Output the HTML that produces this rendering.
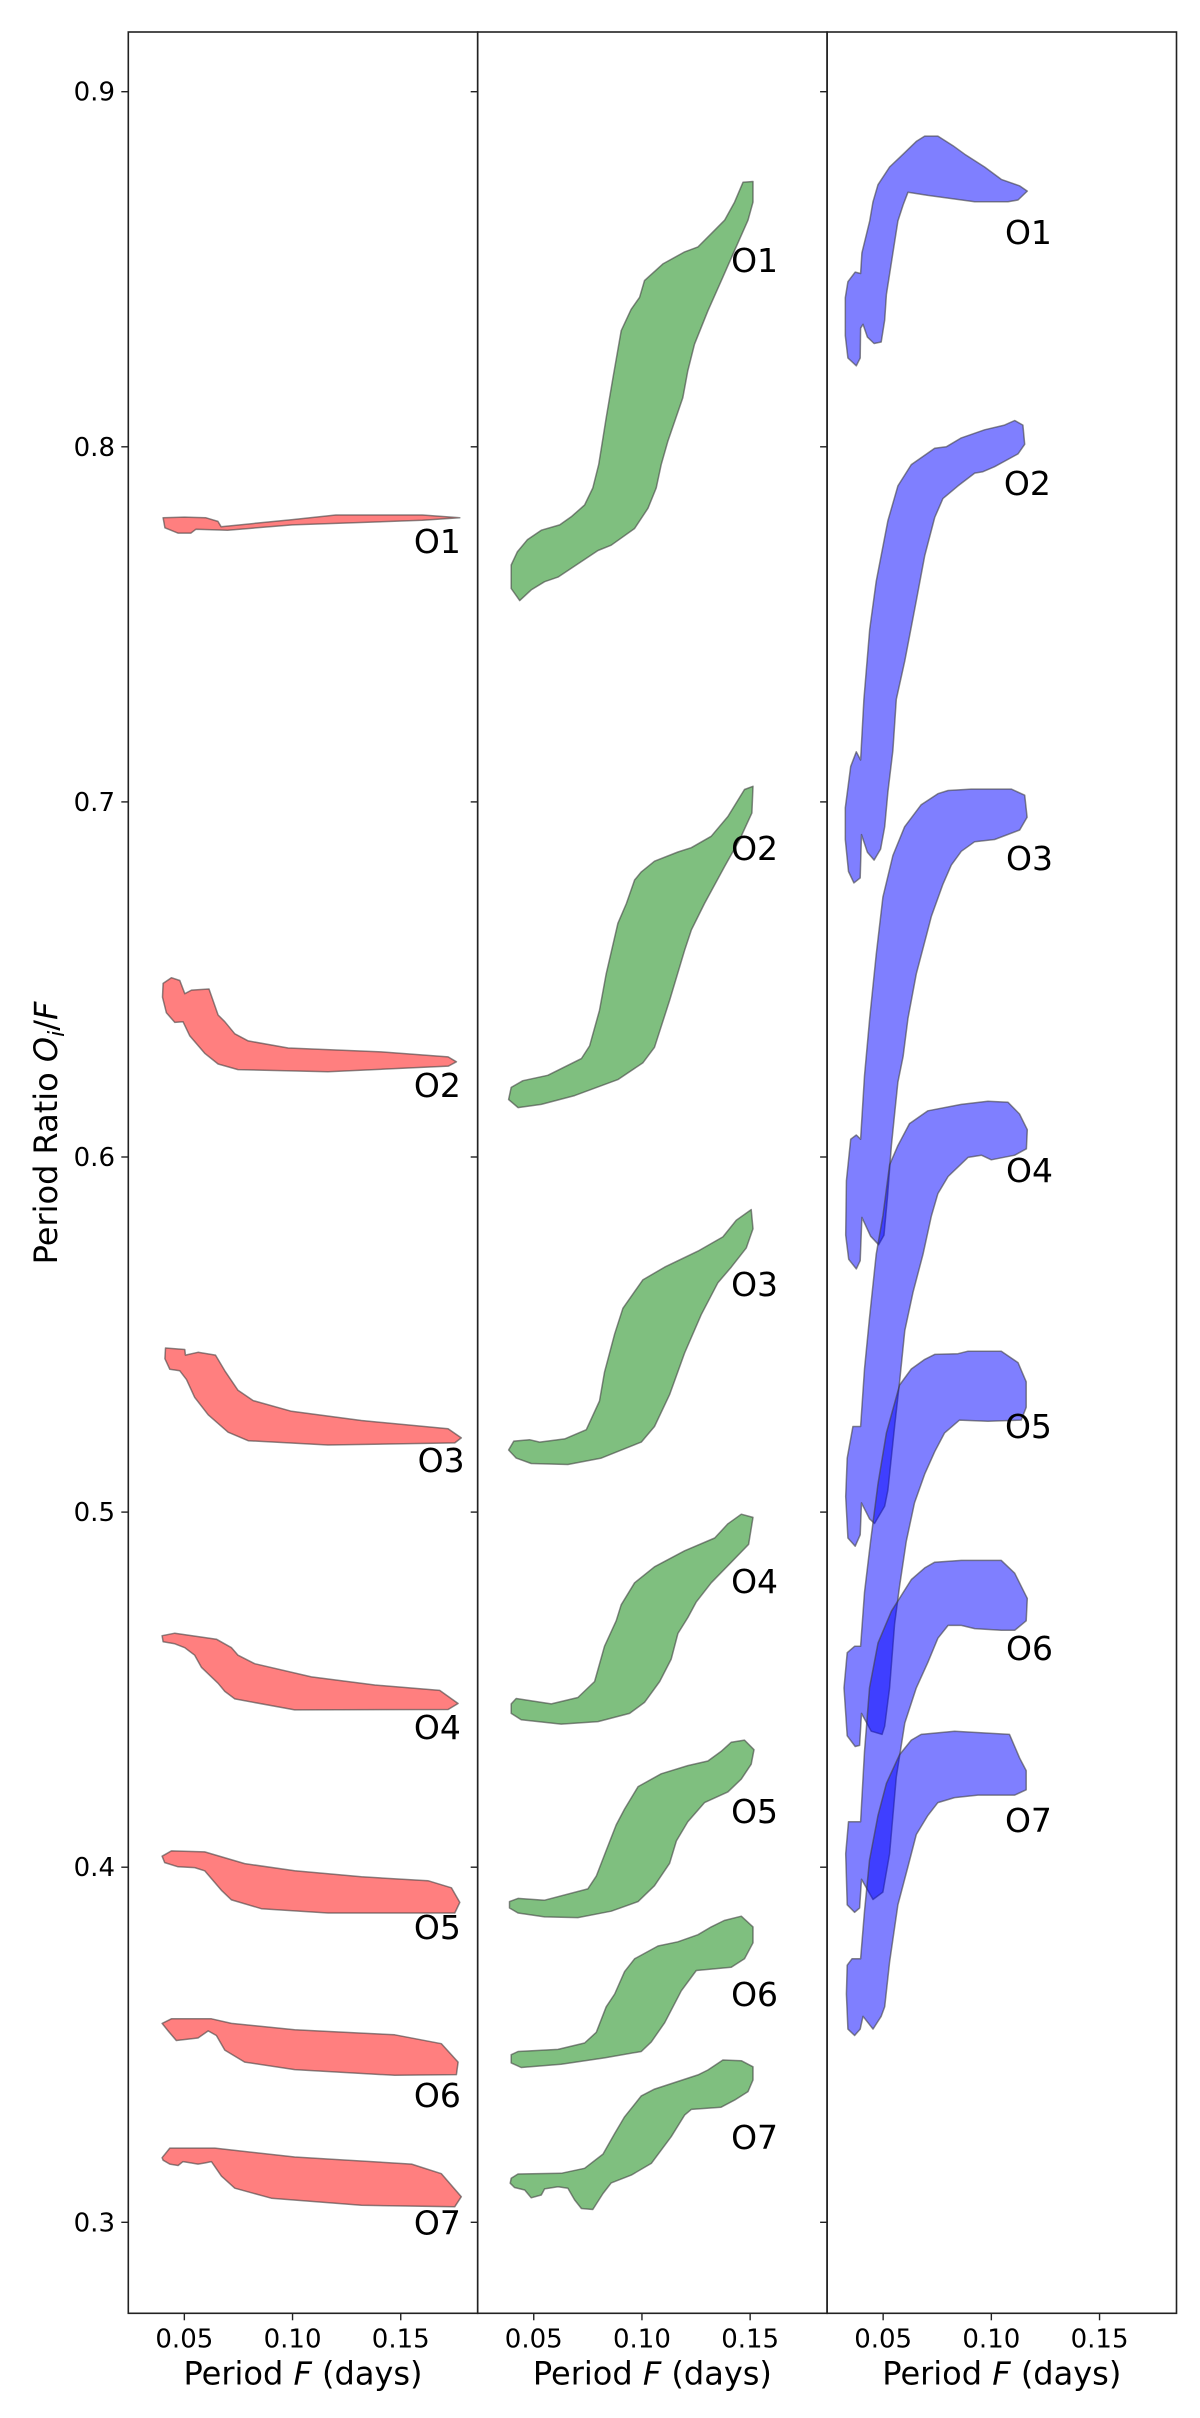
<!DOCTYPE html>
<html><head><meta charset="utf-8"><style>
html,body{margin:0;padding:0;background:#fff}
svg{display:block}
text{font-family:"DejaVu Sans","Liberation Sans",sans-serif;fill:#000}
</style></head><body>
<svg id="chart" width="1200" height="2418" viewBox="0 0 1200 2418" xmlns="http://www.w3.org/2000/svg"></svg>
<script>
const xTicks = [0.05, 0.10, 0.15];
const xTickLabels = ["0.05", "0.10", "0.15"];
const yTicks = [0.3, 0.4, 0.5, 0.6, 0.7, 0.8, 0.9];
const yTickLabels = ["0.3", "0.4", "0.5", "0.6", "0.7", "0.8", "0.9"];
const bandNames = ["O1","O2","O3","O4","O5","O6","O7"];

const redBands = [
 [[0.0402,0.7800],[0.050,0.7802],[0.060,0.7800],[0.0655,0.7790],[0.067,0.7775],[0.10,0.7795],[0.12,0.7808],[0.16,0.7808],[0.1773,0.7800],[0.16,0.7793],[0.10,0.7780],[0.07,0.7765],[0.0554,0.7768],[0.053,0.7757],[0.047,0.7757],[0.041,0.7772]],
 [[0.0402,0.6489],[0.044,0.6505],[0.0479,0.6497],[0.0502,0.6460],[0.0533,0.6470],[0.0614,0.6473],[0.0656,0.6400],[0.0687,0.6381],[0.0733,0.6347],[0.0795,0.6327],[0.098,0.6307],[0.141,0.6296],[0.1719,0.6282],[0.1757,0.6268],[0.172,0.6256],[0.1164,0.6240],[0.0748,0.6246],[0.0656,0.6262],[0.0594,0.6292],[0.0525,0.6341],[0.0494,0.6381],[0.0456,0.6379],[0.0417,0.6406],[0.0399,0.6450]],
 [[0.0413,0.5462],[0.0502,0.5458],[0.0505,0.5442],[0.0563,0.5450],[0.0644,0.5442],[0.0687,0.5398],[0.0748,0.5343],[0.0818,0.5314],[0.0995,0.5284],[0.1318,0.5258],[0.1719,0.5235],[0.178,0.5209],[0.175,0.5195],[0.1164,0.5189],[0.0795,0.5201],[0.0702,0.5225],[0.061,0.5274],[0.0548,0.5323],[0.051,0.5373],[0.0479,0.5398],[0.0433,0.5402],[0.041,0.5432]],
 [[0.0397,0.4652],[0.0456,0.4659],[0.0648,0.4642],[0.0718,0.4618],[0.0748,0.4597],[0.0825,0.4573],[0.1087,0.4536],[0.138,0.4513],[0.168,0.4498],[0.1765,0.4461],[0.1719,0.4444],[0.101,0.4443],[0.0733,0.4474],[0.0687,0.4495],[0.0656,0.4518],[0.0579,0.4563],[0.0548,0.4597],[0.0502,0.4618],[0.0456,0.4629],[0.0402,0.4635]],
 [[0.0397,0.4031],[0.044,0.4046],[0.0594,0.4043],[0.0779,0.4010],[0.101,0.3990],[0.1318,0.3973],[0.1626,0.3962],[0.1734,0.3942],[0.1773,0.3901],[0.175,0.3871],[0.1164,0.3871],[0.0856,0.3883],[0.0718,0.3908],[0.0671,0.3935],[0.0594,0.3990],[0.0548,0.3999],[0.0471,0.4001],[0.0409,0.4013]],
 [[0.0397,0.3560],[0.044,0.3573],[0.0525,0.3573],[0.0625,0.3573],[0.0718,0.3560],[0.101,0.3542],[0.1472,0.3528],[0.1688,0.3503],[0.1765,0.3451],[0.1757,0.3416],[0.1472,0.3414],[0.101,0.3430],[0.0779,0.3451],[0.0687,0.3485],[0.0648,0.3526],[0.061,0.3539],[0.0563,0.3519],[0.0463,0.3512],[0.0425,0.3539]],
 [[0.0397,0.3182],[0.0433,0.3209],[0.0641,0.3209],[0.101,0.3184],[0.155,0.3164],[0.1688,0.3137],[0.178,0.3072],[0.175,0.3044],[0.1318,0.3048],[0.0902,0.3068],[0.0733,0.3096],[0.0671,0.3130],[0.0625,0.3171],[0.0594,0.3167],[0.0563,0.3164],[0.0533,0.3167],[0.0494,0.3171],[0.0471,0.3160],[0.0433,0.3164],[0.0402,0.3175]]
];
const greenBands = [
 [[0.1467,0.8745],[0.1513,0.8747],[0.1513,0.8689],[0.149,0.8638],[0.1428,0.8553],[0.1374,0.8478],[0.1305,0.8383],[0.1243,0.8289],[0.1212,0.8214],[0.1189,0.8138],[0.112,0.8016],[0.1089,0.7950],[0.1066,0.7884],[0.1028,0.7827],[0.0966,0.7770],[0.0858,0.7723],[0.0797,0.7708],[0.0612,0.7633],[0.055,0.7620],[0.0488,0.7597],[0.0435,0.7567],[0.0396,0.7601],[0.0396,0.7667],[0.0424,0.7704],[0.047,0.7738],[0.0535,0.7765],[0.062,0.7780],[0.0673,0.7803],[0.0735,0.7836],[0.0773,0.7884],[0.08,0.7950],[0.082,0.8025],[0.0835,0.8082],[0.0866,0.8195],[0.0904,0.8327],[0.095,0.8387],[0.0989,0.8421],[0.1012,0.8468],[0.1097,0.8515],[0.1197,0.8549],[0.1259,0.8563],[0.132,0.8600],[0.1382,0.8638],[0.1428,0.8689]],
 [[0.1474,0.7035],[0.1513,0.7044],[0.1508,0.6969],[0.1451,0.6893],[0.1382,0.6818],[0.1289,0.6714],[0.1228,0.6639],[0.1197,0.6582],[0.1128,0.6441],[0.1058,0.6309],[0.1004,0.6265],[0.0889,0.6218],[0.0689,0.6173],[0.0535,0.6148],[0.0427,0.6139],[0.0384,0.6162],[0.0396,0.6196],[0.045,0.6215],[0.0565,0.6230],[0.0720,0.6277],[0.0758,0.6313],[0.0804,0.6413],[0.0835,0.6516],[0.0889,0.6658],[0.0928,0.6714],[0.0966,0.6780],[0.0997,0.6803],[0.1058,0.6833],[0.1166,0.6859],[0.1228,0.6871],[0.132,0.6903],[0.1397,0.6959]],
 [[0.1505,0.5852],[0.1513,0.5798],[0.1482,0.5744],[0.1413,0.5690],[0.1351,0.5646],[0.1274,0.5556],[0.1197,0.5448],[0.1128,0.5331],[0.1058,0.5241],[0.0997,0.5197],[0.0812,0.5152],[0.0658,0.5134],[0.0488,0.5137],[0.0419,0.5152],[0.0384,0.5175],[0.0408,0.5200],[0.0481,0.5204],[0.0527,0.5197],[0.0643,0.5206],[0.0743,0.5232],[0.0804,0.5313],[0.0827,0.5394],[0.0874,0.5502],[0.0912,0.5574],[0.1004,0.5654],[0.1105,0.5690],[0.1259,0.5735],[0.1374,0.5775],[0.1436,0.5822]],
 [[0.1459,0.4994],[0.1513,0.4985],[0.1493,0.4909],[0.1413,0.4859],[0.132,0.4801],[0.1251,0.4747],[0.1212,0.4703],[0.1166,0.4658],[0.1135,0.4586],[0.1082,0.4523],[0.1012,0.4464],[0.0943,0.4433],[0.0797,0.4410],[0.0627,0.4403],[0.0442,0.4415],[0.0396,0.4433],[0.0396,0.4460],[0.0419,0.4475],[0.0581,0.4460],[0.0704,0.4478],[0.0781,0.4523],[0.0827,0.4622],[0.0881,0.4694],[0.0904,0.4739],[0.0966,0.4801],[0.1058,0.4846],[0.1197,0.4891],[0.1336,0.4927],[0.1397,0.4967]],
 [[0.1413,0.4352],[0.1474,0.4358],[0.1518,0.4331],[0.1505,0.4290],[0.1459,0.4248],[0.1397,0.4212],[0.1289,0.4182],[0.1212,0.4128],[0.1159,0.4074],[0.1128,0.4011],[0.1058,0.3948],[0.0982,0.3903],[0.0858,0.3876],[0.0704,0.3858],[0.055,0.3860],[0.0427,0.3871],[0.0388,0.3885],[0.0388,0.3903],[0.0427,0.3912],[0.055,0.3907],[0.075,0.3939],[0.0789,0.3975],[0.0835,0.4047],[0.0881,0.4119],[0.092,0.4164],[0.0982,0.4227],[0.1089,0.4263],[0.1212,0.4286],[0.1305,0.4299],[0.1366,0.4326]],
 [[0.138,0.3850],[0.1459,0.3862],[0.1513,0.3832],[0.1513,0.3787],[0.1474,0.3742],[0.1413,0.3718],[0.1251,0.3709],[0.1182,0.3652],[0.1105,0.3562],[0.1043,0.3508],[0.0997,0.3481],[0.0827,0.3463],[0.0627,0.3445],[0.0442,0.3436],[0.0396,0.3449],[0.0396,0.3472],[0.0427,0.3481],[0.0612,0.3487],[0.0735,0.3505],[0.0789,0.3535],[0.0835,0.3607],[0.0874,0.3643],[0.092,0.3706],[0.0966,0.3742],[0.1074,0.3778],[0.1166,0.3790],[0.1259,0.3810],[0.132,0.3832]],
 [[0.1374,0.3457],[0.1459,0.3455],[0.1513,0.3438],[0.1513,0.3401],[0.149,0.3368],[0.1428,0.3344],[0.1366,0.3324],[0.1228,0.3318],[0.1197,0.3302],[0.1135,0.3241],[0.1043,0.3166],[0.0951,0.3133],[0.0858,0.3111],[0.082,0.3081],[0.0773,0.3036],[0.0720,0.3039],[0.0689,0.3063],[0.0658,0.3096],[0.0612,0.3100],[0.055,0.3094],[0.0535,0.3077],[0.0488,0.3069],[0.0458,0.3091],[0.0411,0.3098],[0.0391,0.3110],[0.0396,0.3124],[0.0427,0.3136],[0.0627,0.3138],[0.0735,0.3152],[0.0820,0.3192],[0.0874,0.3250],[0.092,0.3297],[0.0997,0.3356],[0.1058,0.3375],[0.1259,0.3415],[0.1305,0.3429]]
];
const blueBands = [
 [[0.0692,0.8875],[0.0753,0.8875],[0.0823,0.8848],[0.0877,0.8824],[0.0969,0.8788],[0.1046,0.8753],[0.113,0.8735],[0.1166,0.8720],[0.1123,0.8695],[0.1077,0.8690],[0.0923,0.8690],[0.0707,0.8708],[0.0615,0.8717],[0.0592,0.8681],[0.0568,0.8636],[0.0538,0.8519],[0.0515,0.8429],[0.0507,0.8357],[0.0491,0.8295],[0.0458,0.8291],[0.0427,0.8309],[0.0407,0.8345],[0.0396,0.8334],[0.0394,0.8250],[0.0376,0.8228],[0.0337,0.8250],[0.0325,0.8313],[0.0325,0.8420],[0.0337,0.8465],[0.0371,0.8492],[0.0396,0.8488],[0.0402,0.8546],[0.0438,0.8636],[0.0453,0.8690],[0.0476,0.8738],[0.053,0.8788],[0.0592,0.8824],[0.0653,0.8860]],
 [[0.0969,0.8048],[0.1061,0.8061],[0.1108,0.8074],[0.1146,0.8061],[0.1154,0.8007],[0.1123,0.7980],[0.1015,0.7944],[0.0961,0.7930],[0.0923,0.7926],[0.0846,0.7890],[0.0776,0.7854],[0.0738,0.7801],[0.0692,0.7693],[0.0653,0.7567],[0.06,0.7397],[0.0561,0.7289],[0.0545,0.7145],[0.0522,0.7028],[0.0507,0.6930],[0.0488,0.6867],[0.0458,0.6836],[0.0427,0.6858],[0.04,0.6908],[0.0394,0.6786],[0.0365,0.6772],[0.034,0.6804],[0.0325,0.6894],[0.0325,0.6983],[0.0350,0.7100],[0.0376,0.7141],[0.0396,0.7118],[0.0411,0.7289],[0.0438,0.7486],[0.0468,0.7621],[0.0522,0.7792],[0.0568,0.7890],[0.063,0.7950],[0.0738,0.7996],[0.0792,0.8000],[0.0861,0.8025]],
 [[0.08,0.7032],[0.0907,0.7036],[0.1092,0.7036],[0.1154,0.7019],[0.1165,0.6957],[0.1131,0.6921],[0.1015,0.6894],[0.0923,0.6888],[0.0861,0.6861],[0.0815,0.6822],[0.0776,0.6768],[0.0723,0.6678],[0.07,0.6624],[0.0653,0.6516],[0.0615,0.6391],[0.0592,0.6283],[0.0568,0.6211],[0.0553,0.6121],[0.0538,0.6032],[0.052,0.5888],[0.0504,0.5780],[0.0479,0.5753],[0.0442,0.5777],[0.0402,0.5830],[0.0394,0.5708],[0.0376,0.5685],[0.0341,0.5712],[0.0327,0.5780],[0.033,0.5933],[0.035,0.6050],[0.0376,0.6062],[0.0396,0.6050],[0.0414,0.6229],[0.0438,0.6391],[0.0468,0.6570],[0.0499,0.6732],[0.0545,0.6849],[0.0599,0.6930],[0.0676,0.6992],[0.0753,0.7023]],
 [[0.0707,0.6130],[0.0861,0.6148],[0.0984,0.6157],[0.1077,0.6154],[0.113,0.6121],[0.1166,0.6077],[0.1162,0.6023],[0.1108,0.6005],[0.1,0.5992],[0.0954,0.6005],[0.0892,0.5999],[0.08,0.5945],[0.0753,0.5897],[0.0723,0.5834],[0.0684,0.5726],[0.0638,0.5619],[0.06,0.5511],[0.0576,0.5367],[0.0553,0.5241],[0.0522,0.5062],[0.0507,0.5017],[0.046,0.4968],[0.0437,0.4981],[0.04,0.5026],[0.0394,0.4936],[0.0371,0.4904],[0.0337,0.4927],[0.0327,0.5044],[0.0334,0.5152],[0.036,0.5241],[0.0396,0.5241],[0.0414,0.5403],[0.0437,0.5547],[0.0468,0.5726],[0.0499,0.5834],[0.053,0.5978],[0.0568,0.6032],[0.0622,0.6094]],
 [[0.0738,0.5444],[0.0846,0.5446],[0.0892,0.5453],[0.1046,0.5453],[0.1123,0.5421],[0.1161,0.5367],[0.1161,0.5295],[0.1138,0.5259],[0.0984,0.5256],[0.0853,0.5259],[0.0784,0.5223],[0.0738,0.5170],[0.0692,0.5107],[0.0645,0.5026],[0.0607,0.4918],[0.0576,0.4792],[0.0553,0.4685],[0.053,0.4505],[0.0507,0.4397],[0.0495,0.4374],[0.0445,0.4383],[0.04,0.4433],[0.0391,0.4343],[0.0371,0.4340],[0.0334,0.4370],[0.0319,0.4505],[0.0334,0.4604],[0.0368,0.4622],[0.0396,0.4622],[0.0414,0.4774],[0.0442,0.4918],[0.0476,0.5080],[0.0515,0.5223],[0.0576,0.5358],[0.063,0.5403],[0.0692,0.5430]],
 [[0.0738,0.4859],[0.0861,0.4864],[0.1046,0.4864],[0.1108,0.4828],[0.1166,0.4757],[0.1161,0.4694],[0.1108,0.4667],[0.1046,0.4667],[0.0923,0.4672],[0.0861,0.4681],[0.08,0.4681],[0.0753,0.4645],[0.0707,0.4577],[0.0653,0.4505],[0.06,0.4406],[0.0561,0.4254],[0.053,0.4038],[0.0499,0.3930],[0.0453,0.3909],[0.04,0.3966],[0.0391,0.3885],[0.0368,0.3873],[0.0334,0.3894],[0.0327,0.4038],[0.0340,0.4128],[0.0396,0.4128],[0.0414,0.4326],[0.0437,0.4505],[0.0476,0.4631],[0.0538,0.4721],[0.063,0.4810],[0.0692,0.4843]],
 [[0.0676,0.4374],[0.0830,0.4383],[0.1084,0.4374],[0.1131,0.4307],[0.1161,0.4272],[0.1161,0.4218],[0.1108,0.4203],[0.0938,0.4203],[0.083,0.4196],[0.0753,0.4182],[0.0707,0.4146],[0.0653,0.4092],[0.0615,0.4002],[0.0568,0.3894],[0.053,0.3733],[0.0507,0.3607],[0.0491,0.3580],[0.0453,0.3544],[0.0407,0.3580],[0.0394,0.3544],[0.0368,0.3526],[0.0337,0.3544],[0.0330,0.3643],[0.0334,0.3724],[0.0356,0.3742],[0.0396,0.3742],[0.0414,0.3876],[0.0437,0.4020],[0.0476,0.4146],[0.0515,0.4236],[0.0576,0.4317],[0.063,0.4358]]
];
const redLabelX = [0.1778,0.1778,0.1795,0.1778,0.1778,0.1778,0.1778];
const redLabelY = [0.7735,0.6203,0.5147,0.4395,0.3832,0.3358,0.3000];
const greenLabelX = [0.1629,0.1629,0.1629,0.1629,0.1629,0.1629,0.1629];
const greenLabelY = [0.8526,0.6870,0.5642,0.4806,0.4158,0.3643,0.3240];
const blueLabelX = [0.1280,0.1275,0.1285,0.1285,0.1280,0.1285,0.1280];
const blueLabelY = [0.8605,0.7898,0.6842,0.5963,0.5242,0.4617,0.4133];

const NS = "http://www.w3.org/2000/svg";
const svgEl = document.getElementById('chart');
const panelLefts = [128.3, 477.7, 827.1];
const panelW = 349.4, plotTop = 32, plotBottom = 2313.3;
const xMin = 0.0241, xScale = 2164, yRef = 0.9, yRefPx = 91.7, yScale = 3551;
function X(p, v){ return panelLefts[p] + (v - xMin) * xScale; }
function Y(v){ return yRefPx + (yRef - v) * yScale; }
function mk(tag, attrs){ const e = document.createElementNS(NS, tag); for (const k in attrs) e.setAttribute(k, attrs[k]); svgEl.appendChild(e); return e; }

const series = [
 {bands: redBands, fill: '#ff0000', lx: redLabelX, ly: redLabelY, key: 'red'},
 {bands: greenBands, fill: '#008000', lx: greenLabelX, ly: greenLabelY, key: 'green'},
 {bands: blueBands, fill: '#0000ff', lx: blueLabelX, ly: blueLabelY, key: 'blue'}
];

series.forEach((s, p) => {
  s.bands.forEach((pts, i) => {
    const d = pts.map(q => X(p, q[0]).toFixed(1) + ',' + Y(q[1]).toFixed(1)).join(' ');
    const poly = mk('polygon', {points: d, fill: s.fill, 'fill-opacity': 0.5, stroke: '#404040', 'stroke-opacity': 0.6, 'stroke-width': 1.5, 'stroke-linejoin': 'round'});
    
    
  });
  s.bands.forEach((pts, i) => {
    const t = mk('text', {x: X(p, s.lx[i]), y: Y(s.ly[i]) + 12, 'text-anchor': 'end', 'font-size': 33});
    t.textContent = bandNames[i];
    
    
  });
  const fr = mk('rect', {x: panelLefts[p], y: plotTop, width: panelW, height: plotBottom - plotTop, fill: 'none', stroke: '#222', 'stroke-width': 1.6});
  
  
  yTicks.forEach((v, i) => {
    const yt = mk('line', {x1: panelLefts[p] - 7, x2: panelLefts[p], y1: Y(v), y2: Y(v), stroke: '#222', 'stroke-width': 1.4});
    
    
    if (p === 0) {
      const tl = mk('text', {x: 115, y: Y(v) + 9, 'text-anchor': 'end', 'font-size': 26});
      tl.textContent = yTickLabels[i];
      
      
    }
  });
  xTicks.forEach((v, i) => {
    const xt = mk('line', {x1: X(p, v), x2: X(p, v), y1: plotBottom, y2: plotBottom + 7, stroke: '#222', 'stroke-width': 1.4});
    
    
    const tl = mk('text', {x: X(p, v), y: plotBottom + 34, 'text-anchor': 'middle', 'font-size': 26});
    tl.textContent = xTickLabels[i];
    
    
  });
  const xl = mk('text', {x: panelLefts[p] + panelW / 2, y: plotBottom + 71, 'text-anchor': 'middle', 'font-size': 32});
  xl.innerHTML = 'Period <tspan font-style="italic">F</tspan> (days)';
  
  
});

const yl = mk('text', {x: 0, y: 0, 'text-anchor': 'middle', 'font-size': 32, transform: 'translate(57,1133) rotate(-90)'});
yl.innerHTML = 'Period Ratio <tspan font-style="italic">O</tspan><tspan font-style="italic" font-size="22" dy="7">i</tspan><tspan dy="-7">/</tspan><tspan font-style="italic">F</tspan>';


</script>
</body></html>
